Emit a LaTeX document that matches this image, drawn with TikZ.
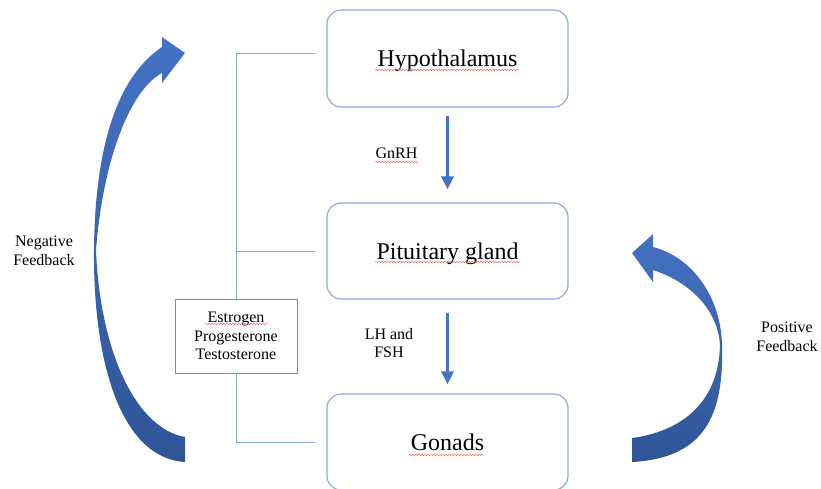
\documentclass[tikz,border=0pt]{standalone}
\usepackage{fontspec}
\setmainfont{Liberation Serif}
\usetikzlibrary{arrows.meta,decorations.pathmorphing}
\definecolor{boxblue}{RGB}{143,170,220}
\definecolor{arrowblue}{RGB}{68,114,196}
\definecolor{arrowdark}{RGB}{47,85,151}
\definecolor{estline}{RGB}{120,140,180}
\definecolor{squig}{RGB}{235,110,110}
\begin{document}
\begin{tikzpicture}[x=1pt,y=-1pt,
  bigbox/.style={draw=boxblue, line width=1.2pt, rounded corners=14pt, minimum width=241pt, minimum height=97pt, inner sep=0pt, text height=16pt, text depth=0pt, font=\fontsize{24}{28}\selectfont},
  small/.style={font=\fontsize{16}{18.5}\selectfont, align=center, inner sep=0pt},
  flow/.style={draw=arrowblue, line width=3pt, -{Triangle[width=12pt,length=13pt]}},
  bracketline/.style={draw=boxblue, line width=1pt},
  fb/.style={top color=arrowblue, bottom color=arrowdark, draw=none},
  squiggle/.style={draw=squig, line width=0.5pt, decorate, decoration={snake, amplitude=0.7pt, segment length=3pt}}]
\useasboundingbox (0,0) rectangle (821,488);
\clip (0,0) rectangle (821,488);

% main boxes
\node[bigbox] (hyp) at (447.5,58.5) {Hypothalamus};
\node[bigbox, minimum height=96pt] (pit) at (447.5,251) {Pituitary gland};
\node[bigbox, minimum height=96pt] (gon) at (447.5,442) {Gonads};

% hormone box
\node[small, draw=estline, line width=0.8pt, minimum width=122pt, minimum height=74pt] (est) at (236,336) {Estrogen\\Progesterone\\Testosterone};

% labels
\node[small] (gnrh) at (396.5,153) {GnRH};
\node[small] (lhfsh) at (389,343) {LH and\\FSH};
\node[small] (neg) at (44,251) {Negative\\Feedback};
\node[small] (pos) at (787,337) {Positive\\Feedback};

% vertical flow arrows
\draw[flow, shorten <=8pt, shorten >=13pt] (hyp) -- (pit);
\draw[flow, shorten <=13pt, shorten >=9pt] (pit) -- (gon);

% bracket lines
\draw[bracketline] ([xshift=-11pt,yshift=5.5pt]hyp.west) -| (est.north);
\draw[bracketline] ([xshift=-11pt]pit.west) -- (pit.west -| est.north);
\draw[bracketline] ([xshift=-11pt]gon.west) -| (est.south);

% negative feedback curved arrow
\path[fb] (185,462) .. controls (120,458) and (93,360) .. (94,250)
  .. controls (95,140) and (120,75) .. (162,47) -- (162,37) -- (185,53) -- (162,83) -- (162,73)
  .. controls (130,90) and (103,160) .. (96,250)
  .. controls (100,350) and (135,428) .. (185,437) -- cycle;

% positive feedback curved arrow
\path[fb] (632,462) .. controls (705,458) and (724,415) .. (722,345)
  .. controls (721,300) and (695,258) .. (653,247) -- (653,234) -- (632,253) -- (653,282) -- (653,270)
  .. controls (690,282) and (718,310) .. (720,345)
  .. controls (719,395) and (690,430) .. (632,438) -- cycle;

% spell-check underlines
\draw[squiggle] (375,70) -- (518,70);
\draw[squiggle] (375,262) -- (520,262);
\draw[squiggle] (409,455) -- (484,455);
\draw[squiggle] (375,162) -- (418,162);
\draw[squiggle] (205,324) -- (267,324);
\end{tikzpicture}
\end{document}
